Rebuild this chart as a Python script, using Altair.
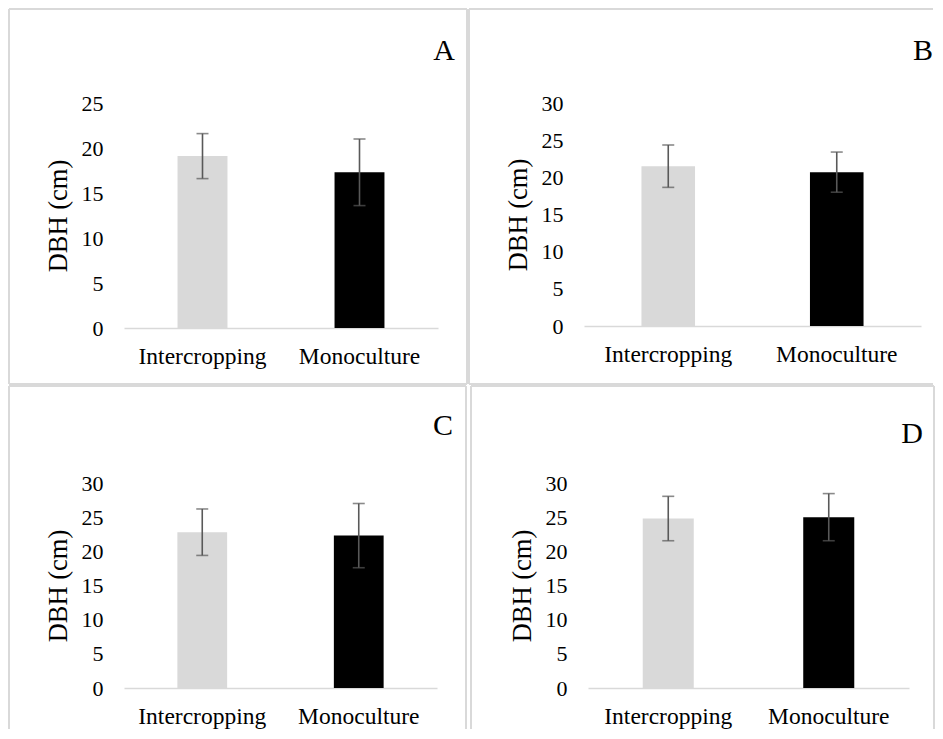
import altair as alt
import pandas as pd

# ---------------- data ----------------
panel_letters = ["A", "B", "C", "D"]
categories = ["Intercropping", "Monoculture"]
mean_A = [19.1, 17.3]
mean_B = [21.5, 20.7]
mean_C = [22.8, 22.3]
mean_D = [24.8, 25.0]
err_A = [2.5, 3.7]
err_B = [2.85, 2.7]
err_C = [3.4, 4.7]
err_D = [3.25, 3.45]
y_max = [25, 30, 30, 30]
y_title = "DBH (cm)"

means = [mean_A, mean_B, mean_C, mean_D]
errs = [err_A, err_B, err_C, err_D]

# ---------------- styling / layout ----------------
FONT = "Liberation Serif"
BAR_COLORS = ["#d9d9d9", "#000000"]
ERR_COLOR = "#595959"
BORDER_COLOR = "#d9d9d9"

layout = {
    "A": dict(w=314, h=225, l=-115, r=343, t=-94, b=281, sides="ltrb", lx=320, ly=-43),
    "B": dict(w=337, h=223, l=-115, r=349, t=-94, b=281, sides="ltb", lx=339, ly=-43),
    "C": dict(w=313, h=205, l=-115, r=342, t=-97, b=246, sides="ltr", lx=319, ly=-48),
    "D": dict(w=321, h=205, l=-117, r=346, t=-97, b=246, sides="ltr", lx=324, ly=-40),
}

one_row = pd.DataFrame({"k": [0]})


def border_layers(g):
    layers = []
    seg = []
    if "t" in g["sides"]:
        seg.append(dict(x=alt.value(g["l"]), x2=alt.value(g["r"]), y=alt.value(g["t"])))
    if "b" in g["sides"]:
        seg.append(dict(x=alt.value(g["l"]), x2=alt.value(g["r"]), y=alt.value(g["b"])))
    if "l" in g["sides"]:
        seg.append(dict(x=alt.value(g["l"]), y=alt.value(g["t"]), y2=alt.value(g["b"])))
    if "r" in g["sides"]:
        seg.append(dict(x=alt.value(g["r"]), y=alt.value(g["t"]), y2=alt.value(g["b"])))
    for s in seg:
        layers.append(
            alt.Chart(one_row).mark_rule(color=BORDER_COLOR, strokeWidth=2).encode(**s)
        )
    return layers


def make_panel(i):
    letter = panel_letters[i]
    g = layout[letter]
    ymax = y_max[i]
    df = pd.DataFrame({
        "cat": categories,
        "mean": means[i],
        "err": errs[i],
    })
    df["lo"] = df["mean"] - df["err"]
    df["hi"] = df["mean"] + df["err"]

    xaxis = alt.Axis(
        title=None, labelAngle=0, ticks=False, domain=True, domainColor="#d9d9d9",
        domainWidth=1.5, labelFont=FONT, labelFontSize=23.5, labelPadding=16,
        labelColor="#000000", grid=False,
    )
    yaxis = alt.Axis(
        title=y_title, values=list(range(0, ymax + 1, 5)), ticks=False, domain=False,
        grid=False, labelFont=FONT, labelFontSize=22, labelPadding=21,
        labelColor="#000000", titleFont=FONT, titleFontSize=26.5,
        titlePadding=9, titleFontWeight="normal", titleColor="#000000",
    )
    xenc = alt.X("cat:N", sort=categories,
                 scale=alt.Scale(paddingInner=0, paddingOuter=0), axis=xaxis)
    yscale = alt.Scale(domain=[0, ymax], nice=False)

    bars = alt.Chart(df).mark_bar(width=alt.RelativeBandSize(0.318)).encode(
        x=xenc,
        y=alt.Y("mean:Q", scale=yscale, axis=yaxis),
        color=alt.Color("cat:N", scale=alt.Scale(domain=categories, range=BAR_COLORS),
                        legend=None),
    )
    stems = alt.Chart(df).mark_rule(color=ERR_COLOR, strokeWidth=1.6).encode(
        x=xenc,
        y=alt.Y("lo:Q", scale=yscale, axis=yaxis),
        y2="hi:Q",
    )
    cap_lo = alt.Chart(df).mark_tick(color=ERR_COLOR, thickness=1.6, size=12).encode(
        x=xenc, y=alt.Y("lo:Q", scale=yscale, axis=yaxis),
    )
    cap_hi = alt.Chart(df).mark_tick(color=ERR_COLOR, thickness=1.6, size=12).encode(
        x=xenc, y=alt.Y("hi:Q", scale=yscale, axis=yaxis),
    )
    label = alt.Chart(pd.DataFrame({"t": [letter]})).mark_text(
        font=FONT, fontSize=30, align="center", baseline="alphabetic", color="#000000"
    ).encode(x=alt.value(g["lx"]), y=alt.value(g["ly"]), text="t:N")

    return alt.layer(*border_layers(g), bars, stems, cap_lo, cap_hi, label).properties(
        width=g["w"], height=g["h"]
    )


row1 = alt.hconcat(make_panel(0), make_panel(1), spacing=0)
row2 = alt.hconcat(make_panel(2), make_panel(3), spacing=3)

chart = (
    alt.vconcat(row1, row2, spacing=0)
    .properties(padding=0, background="#ffffff")
    .configure_view(stroke=None)
    .configure_axis(labelFont=FONT, titleFont=FONT, labelColor="#000000",
                    titleColor="#000000")
    .configure_text(font=FONT)
)

chart.save("out.html", embed_options={"renderer": "svg", "actions": False})
